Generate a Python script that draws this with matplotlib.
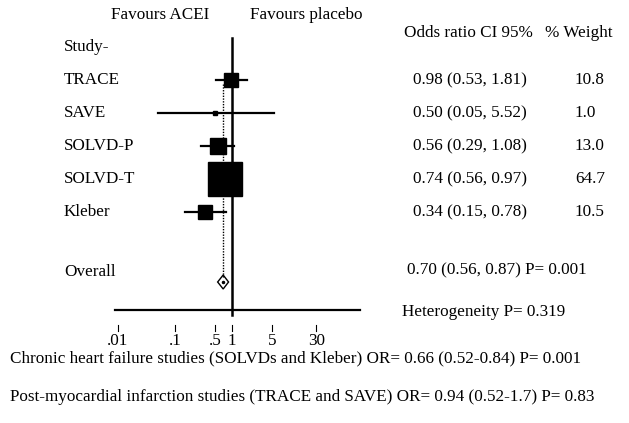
import numpy as np
import matplotlib
matplotlib.use("Agg")
import matplotlib.pyplot as plt

# study data
studies = ["TRACE", "SAVE", "SOLVD-P", "SOLVD-T", "Kleber"]
odds = [0.98, 0.50, 0.56, 0.74, 0.34]
ci_low = [0.53, 0.05, 0.29, 0.56, 0.15]
ci_high = [1.81, 5.52, 1.08, 0.97, 0.78]
weights = [10.8, 1.0, 13.0, 64.7, 10.5]
ci_labels = ["0.98 (0.53, 1.81)", "0.50 (0.05, 5.52)", "0.56 (0.29, 1.08)",
             "0.74 (0.56, 0.97)", "0.34 (0.15, 0.78)"]
weight_labels = ["10.8", "1.0", "13.0", "64.7", "10.5"]

overall_or = 0.70
overall_low = 0.56
overall_high = 0.87
overall_label = "0.70 (0.56, 0.87) P= 0.001"
heterogeneity = "Heterogeneity P= 0.319"

tick_vals = [0.01, 0.1, 0.5, 1, 5, 30]
tick_labels = [".01", ".1", ".5", "1", "5", "30"]

chf_note = "Chronic heart failure studies (SOLVDs and Kleber) OR= 0.66 (0.52-0.84) P= 0.001"
mi_note = "Post-myocardial infarction studies (TRACE and SAVE) OR= 0.94 (0.52-1.7) P= 0.83"

plt.rcParams['font.family'] = ['Liberation Serif', 'DejaVu Serif']
FS = 12.3

W, H = 629, 423
fig = plt.figure(figsize=(W / 100, H / 100), dpi=100)

# text layer in pixel coords
tx = fig.add_axes([0, 0, 1, 1])
tx.set_xlim(0, W)
tx.set_ylim(H, 0)
tx.axis('off')

# forest layer: log x, pixel y; 57 px per decade, OR=1 at x=232
ppd = 57.0
x_one = 232.0
ax = fig.add_axes([0, 0, 1, 1], sharey=tx)
ax.set_xscale('log')
ax.set_xlim(10 ** (-x_one / ppd), 10 ** ((W - x_one) / ppd))
ax.axis('off')
ax.patch.set_alpha(0)

row0 = 47
step = 33
rows = [row0 + step * (i + 1) for i in range(len(studies))]
y_overall = row0 + step * 7

# headers
tx.text(160, 15, "Favours ACEI", ha='center', va='center', fontsize=FS)
tx.text(306, 15, "Favours placebo", ha='center', va='center', fontsize=FS)
tx.text(64, row0, "Study-", ha='left', va='center', fontsize=FS)
tx.text(404, 33, "Odds ratio CI 95%", ha='left', va='center', fontsize=FS)
tx.text(545, 33, "% Weight", ha='left', va='center', fontsize=FS)

# null line and axis line
ax.plot([1, 1], [38, 315], color='black', lw=1.8)
ax.plot([10 ** ((115 - x_one) / ppd), 10 ** ((360 - x_one) / ppd)], [310, 310],
        color='black', lw=1.6)
ax.plot([overall_or, overall_or], [rows[0] + 4, y_overall], color='black',
        lw=1.0, ls=(0, (1, 1)))

max_side = 34 * 0.72
for i, name in enumerate(studies):
    y = rows[i]
    tx.text(64, y, name, ha='left', va='center', fontsize=FS)
    ax.plot([ci_low[i], ci_high[i]], [y, y], color='black', lw=1.6)
    side = max_side * np.sqrt(weights[i] / max(weights))
    ax.plot(odds[i], y, marker='s', ms=side, color='black', mec='black')
    tx.text(413, y, ci_labels[i], ha='left', va='center', fontsize=FS)
    tx.text(575, y, weight_labels[i], ha='left', va='center', fontsize=FS)

# overall diamond
tx.text(64, y_overall - 6, "Overall", ha='left', va='center', fontsize=FS)
dh = 7
ax.fill([overall_low, overall_or, overall_high, overall_or],
        [y_overall + 4, y_overall + 4 - dh, y_overall + 4, y_overall + 4 + dh],
        facecolor='white', edgecolor='black', lw=1.0)
ax.plot(overall_or, y_overall + 4, marker='o', ms=1.5, color='black')
tx.text(407, y_overall - 8, overall_label, ha='left', va='center', fontsize=FS)
tx.text(402, 312, heterogeneity, ha='left', va='center', fontsize=FS)

# tick marks sit just above the labels
for v, lab in zip(tick_vals, tick_labels):
    ax.plot([v, v], [325, 331], color='black', lw=0.8)
    ax.text(v, 333, lab, ha='center', va='top', fontsize=FS)

tx.text(10, 358, chf_note, ha='left', va='center', fontsize=FS)
tx.text(10, 397, mi_note, ha='left', va='center', fontsize=FS)

fig.savefig("out.png", dpi=100)
